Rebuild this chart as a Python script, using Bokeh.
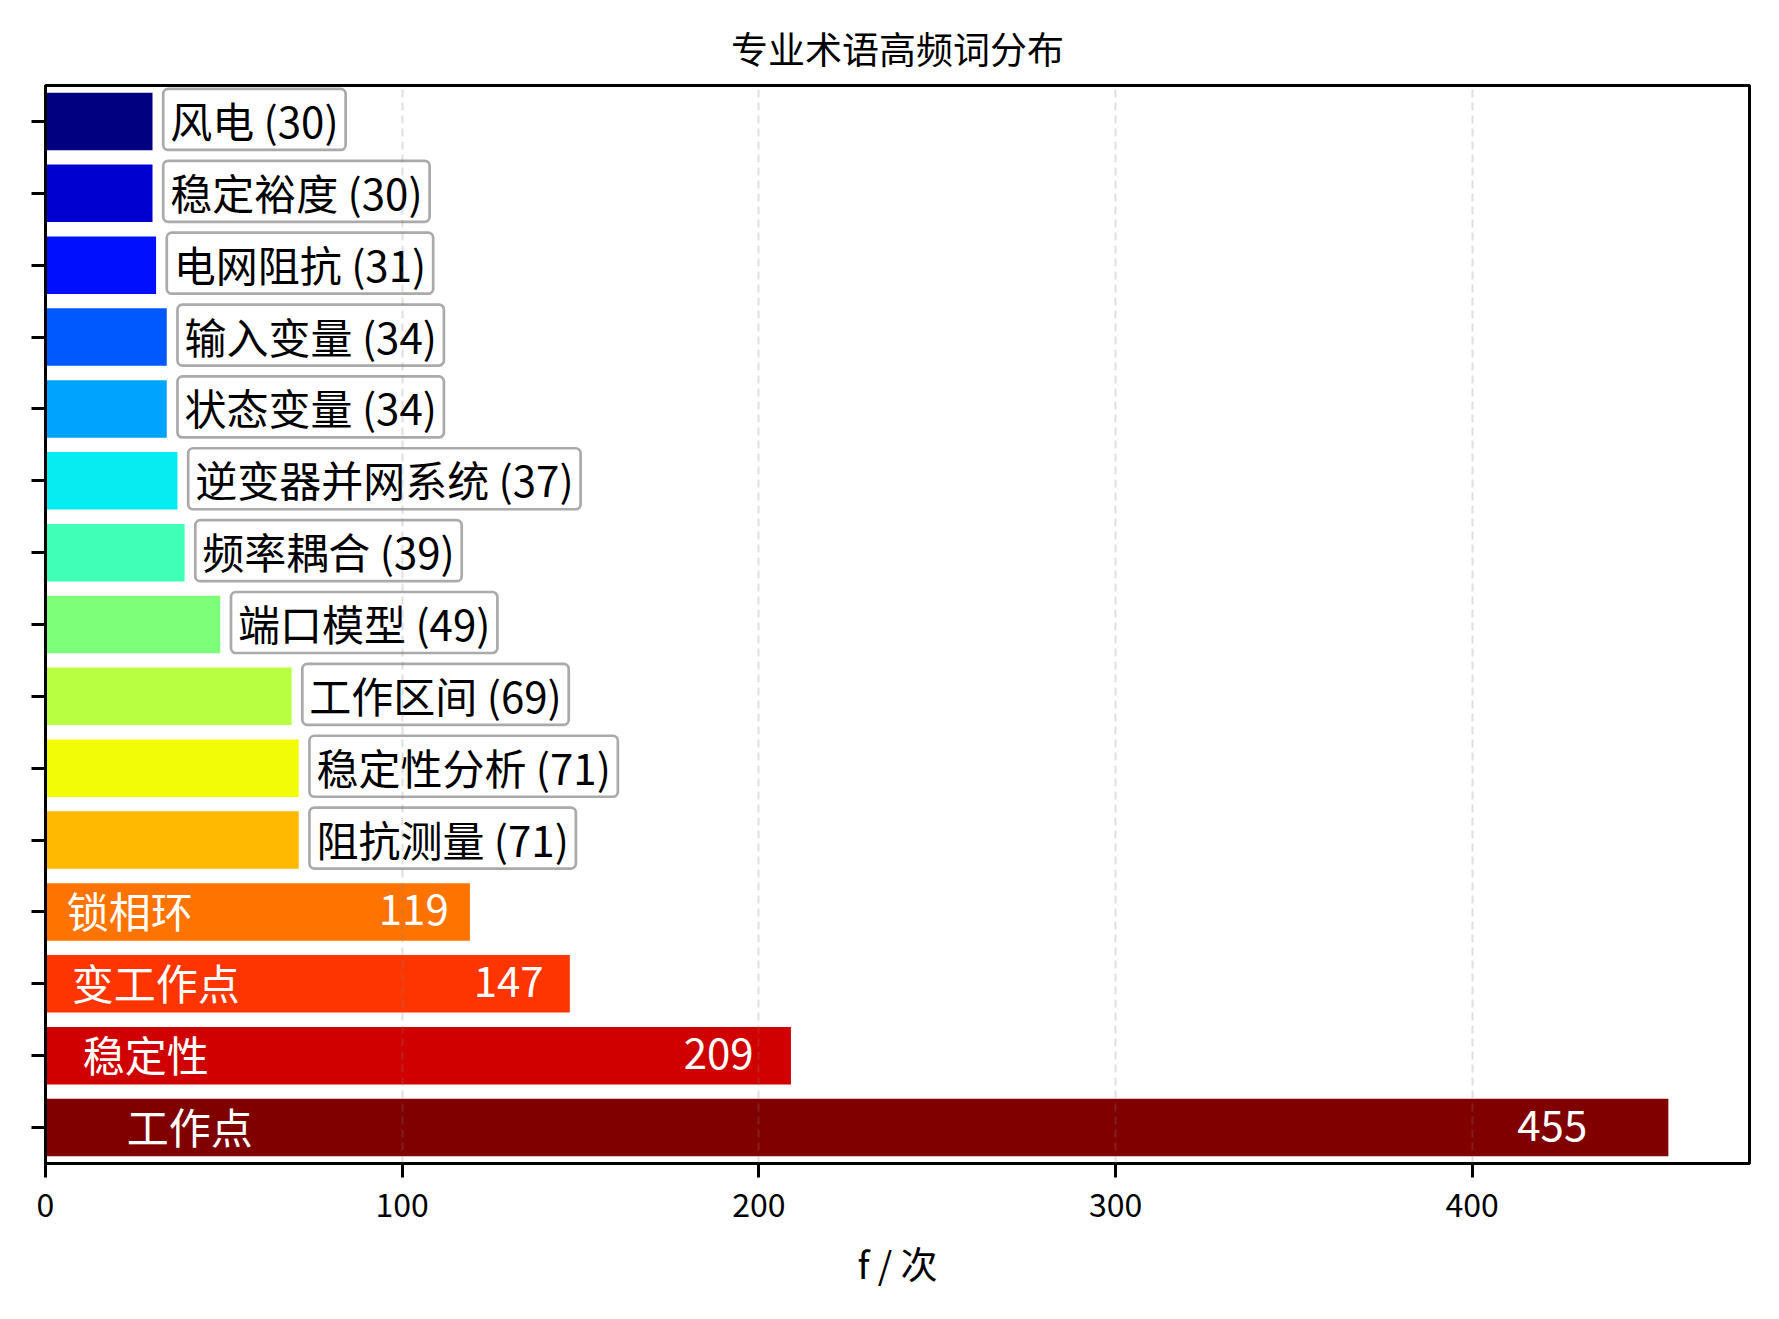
from bokeh.plotting import figure
from bokeh.models import Range1d, FixedTicker, ColumnDataSource
from bokeh.core.properties import value
from bokeh.embed import file_html
from bokeh.resources import INLINE

# ---- data ----
terms = ["风电", "稳定裕度", "电网阻抗", "输入变量", "状态变量", "逆变器并网系统",
         "频率耦合", "端口模型", "工作区间", "稳定性分析", "阻抗测量",
         "锁相环", "变工作点", "稳定性", "工作点"]
counts = [30, 30, 31, 34, 34, 37, 39, 49, 69, 71, 71, 119, 147, 209, 455]
palette = ["#000080", "#0000D1", "#0010FF", "#0058FF", "#00A4FF", "#06ECF1",
           "#40FFB7", "#7DFF7A", "#B7FF40", "#F1FC06", "#FFB900", "#FF7300",
           "#FF3500", "#D10000", "#800000"]
x_ticks = [0, 100, 200, 300, 400]
title_text = "专业术语高频词分布"
x_label = "f / 次"
inside_threshold = 100

FONT = "Noto Sans CJK SC"
N = len(terms)
ypos = [N - 1 - i for i in range(N)]
xmax = max(counts) * 1.05

FRAME_W, FRAME_H = 1704, 1078

p = figure(frame_width=FRAME_W, frame_height=FRAME_H,
           x_range=Range1d(0, xmax), y_range=Range1d(-0.5, N - 0.5),
           output_backend="svg", toolbar_location=None, title=title_text,
           min_border_left=45, min_border_right=14, min_border_top=85,
           min_border_bottom=140)
p.background_fill_color = "white"
p.border_fill_color = "white"
p.outline_line_color = "black"
p.outline_line_width = 3
p.outline_line_alpha = 1

p.title.align = "center"
p.title.text_font = FONT
p.title.text_font_size = "37px"
p.title.text_font_style = "normal"
p.title.text_color = "black"
p.title.standoff = 22

bars = ColumnDataSource(dict(y=ypos, v=counts, c=palette))
p.hbar(y="y", left=0, right="v", height=0.8, fill_color="c", line_color=None, source=bars)

# outside labels (boxed)
out_idx = [i for i in range(N) if counts[i] < inside_threshold]
out_src = ColumnDataSource(dict(
    x=[counts[i] + 3 for i in out_idx],
    y=[ypos[i] for i in out_idx],
    t=[f"{terms[i]} ({counts[i]})" for i in out_idx]))
p.text(x="x", y="y", text="t", source=out_src, text_font=value(FONT),
       text_font_size="42px", text_align="left", text_baseline="middle",
       text_color="black", background_fill_color="white",
       border_line_color="#aaaaaa", border_line_width=2.7,
       padding=dict(left=7, right=7, top=0, bottom=0),
       border_radius=5, y_offset=-2)

# inside labels (white)
in_idx = [i for i in range(N) if counts[i] >= inside_threshold]
in_src = ColumnDataSource(dict(
    xn=[counts[i] * 0.05 for i in in_idx],
    xv=[counts[i] * 0.95 for i in in_idx],
    y=[ypos[i] for i in in_idx],
    n=[terms[i] for i in in_idx],
    v=[str(counts[i]) for i in in_idx]))
p.text(x="xn", y="y", text="n", source=in_src, text_font=value(FONT),
       text_font_size="42px", text_align="left", text_baseline="middle",
       text_color="white", y_offset=-2)
p.text(x="xv", y="y", text="v", source=in_src, text_font=value(FONT),
       text_font_size="42px", text_align="right", text_baseline="middle",
       text_color="white", y_offset=-2)

# axes
p.xaxis.ticker = FixedTicker(ticks=x_ticks)
p.yaxis.ticker = FixedTicker(ticks=ypos)
p.yaxis.major_label_overrides = {y: "" for y in ypos}
for ax in (p.xaxis, p.yaxis):
    ax.axis_line_width = 3
    ax.axis_line_color = "black"
    ax.major_tick_line_width = 3
    ax.major_tick_line_color = "black"
    ax.major_tick_out = 14
    ax.major_tick_in = 0
    ax.minor_tick_out = 0
    ax.minor_tick_in = 0
    ax.major_label_text_font = FONT
    ax.major_label_text_font_size = "32px"
    ax.major_label_text_color = "black"
p.xaxis.major_label_standoff = 15
p.xaxis.axis_label = x_label
p.xaxis.axis_label_text_font = FONT
p.xaxis.axis_label_text_font_size = "37px"
p.xaxis.axis_label_text_font_style = "normal"
p.xaxis.axis_label_text_color = "black"
p.xaxis.axis_label_standoff = 16

p.ygrid.visible = False
p.xgrid.ticker = FixedTicker(ticks=x_ticks)
p.xgrid.grid_line_color = "gray"
p.xgrid.grid_line_alpha = 0.25
p.xgrid.grid_line_width = 2
p.xgrid.grid_line_dash = "8 5"
p.xgrid.level = "overlay"

open("out.html", "w").write(file_html(p, INLINE))
